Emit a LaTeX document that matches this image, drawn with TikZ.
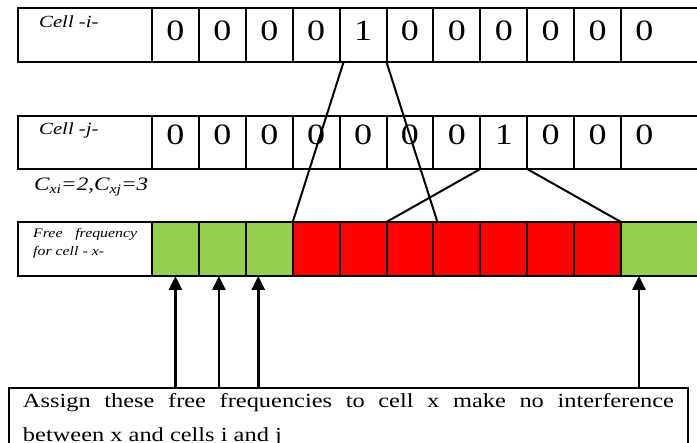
\documentclass[tikz,border=0pt]{standalone}
\usepackage{fontspec}
\setmainfont[FakeStretch=1.22]{Liberation Serif}
\usetikzlibrary{arrows.meta,calc}
\definecolor{cgreen}{RGB}{146,208,80}
\definecolor{cred}{RGB}{255,0,0}
\begin{document}
\begin{tikzpicture}[x=1pt,y=-1pt,
  frame/.style={draw, line width=2pt, outer sep=0pt},
  headbox/.style={frame, anchor=north west, minimum width=134pt, inner sep=0pt},
  digit/.style={frame, anchor=north west, minimum width=46.9pt, inner sep=0pt, text height=20pt, font=\fontsize{29.5}{29.5}\selectfont},
  rowi/.style={digit, minimum height=54pt, text depth=9pt},
  rowj/.style={digit, minimum height=53pt, text depth=15pt},
  freq/.style={frame, anchor=north west, minimum width=46.9pt, minimum height=54pt, inner sep=0pt},
  labtxt/.style={anchor=base west, inner sep=0pt, font=\fontsize{17}{17}\selectfont\itshape},
  link/.style={line width=2pt},
  arr/.style={line width=2.8pt, -{Triangle[width=13pt,length=14pt]}}
]
\clip (0,0) rectangle (697,443);
\fill[white] (0,0) rectangle (697,443);

% ---- row i ----
\node[headbox, minimum height=54pt] (ihead) at (18,8) {};
\node[labtxt] (ilab) at (39,28) {Cell -i-};
\foreach \d [count=\k] in {0,0,0,0,1,0,0,0,0,0}
  \node[rowi] (i\k) at ({152+46.9*(\k-1)},8) {\d};
\node[rowi, draw=none] (i11) at (621,8) {0};
\draw[frame] (i11.north west) -- ++(90,0) (i11.south west) -- ++(90,0);

% ---- row j ----
\node[headbox, minimum height=53pt] (jhead) at (18,116) {};
\node[labtxt] (jlab) at (39,135) {Cell -j-};
\foreach \d [count=\k] in {0,0,0,0,0,0,0,1,0,0}
  \node[rowj] (j\k) at ({152+46.9*(\k-1)},116) {\d};
\node[rowj, draw=none] (j11) at (621,116) {0};
\draw[frame] (j11.north west) -- ++(90,0) (j11.south west) -- ++(90,0);

% ---- C values ----
\node[labtxt, font=\fontsize{19}{19}\selectfont\itshape] (cval) at (34,191)
  {C\raisebox{-3pt}{\fontsize{13}{13}\selectfont xi}=2,C\raisebox{-3pt}{\fontsize{13}{13}\selectfont xj}=3};

% ---- row x ----
\node[headbox, minimum height=54pt] (xhead) at (18,222) {};
\node[anchor=north west, inner sep=0pt, text width=104pt, align=justify,
  font=\fontsize{13}{18}\selectfont\itshape] (xlab) at (33,228)
  {Free frequency\linebreak for cell - x-};
\foreach \k in {1,2,3}
  \node[freq, fill=cgreen] (g\k) at ({152+46.9*(\k-1)},222) {};
\foreach \k in {1,...,7}
  \node[freq, fill=cred] (r\k) at ({152+46.9*(\k+2)},222) {};
\node[freq, fill=cgreen, minimum width=90pt] (g4) at (621,222) {};

% ---- links ----
\draw[link] ([xshift=4pt]i5.south west) -- (r1.north west);
\draw[link] (i5.south east) -- ([xshift=4pt]r4.north west);
\draw[link] (j8.south west) -- (r3.north west);
\draw[link] (j8.south east) -- (g4.north west);

% ---- bottom note ----
\node[frame, anchor=north west, inner xsep=14pt, inner ysep=5pt, text width=651pt,
  align=justify, font=\fontsize{20}{34}\selectfont] (note) at (9,388)
  {Assign these free frequencies to cell x make no interference\linebreak between x and cells i and j};

\coordinate (a1) at (g1.south);
\coordinate (a2) at ([xshift=-3.4pt]g2.south);
\coordinate (a3) at ([xshift=-11pt]g3.south);
\coordinate (a4) at ([xshift=18pt]g4.south west);
\foreach \a in {a1,a2,a3,a4}
  \draw[arr] (\a |- note.north) -- (\a);
\end{tikzpicture}
\end{document}
